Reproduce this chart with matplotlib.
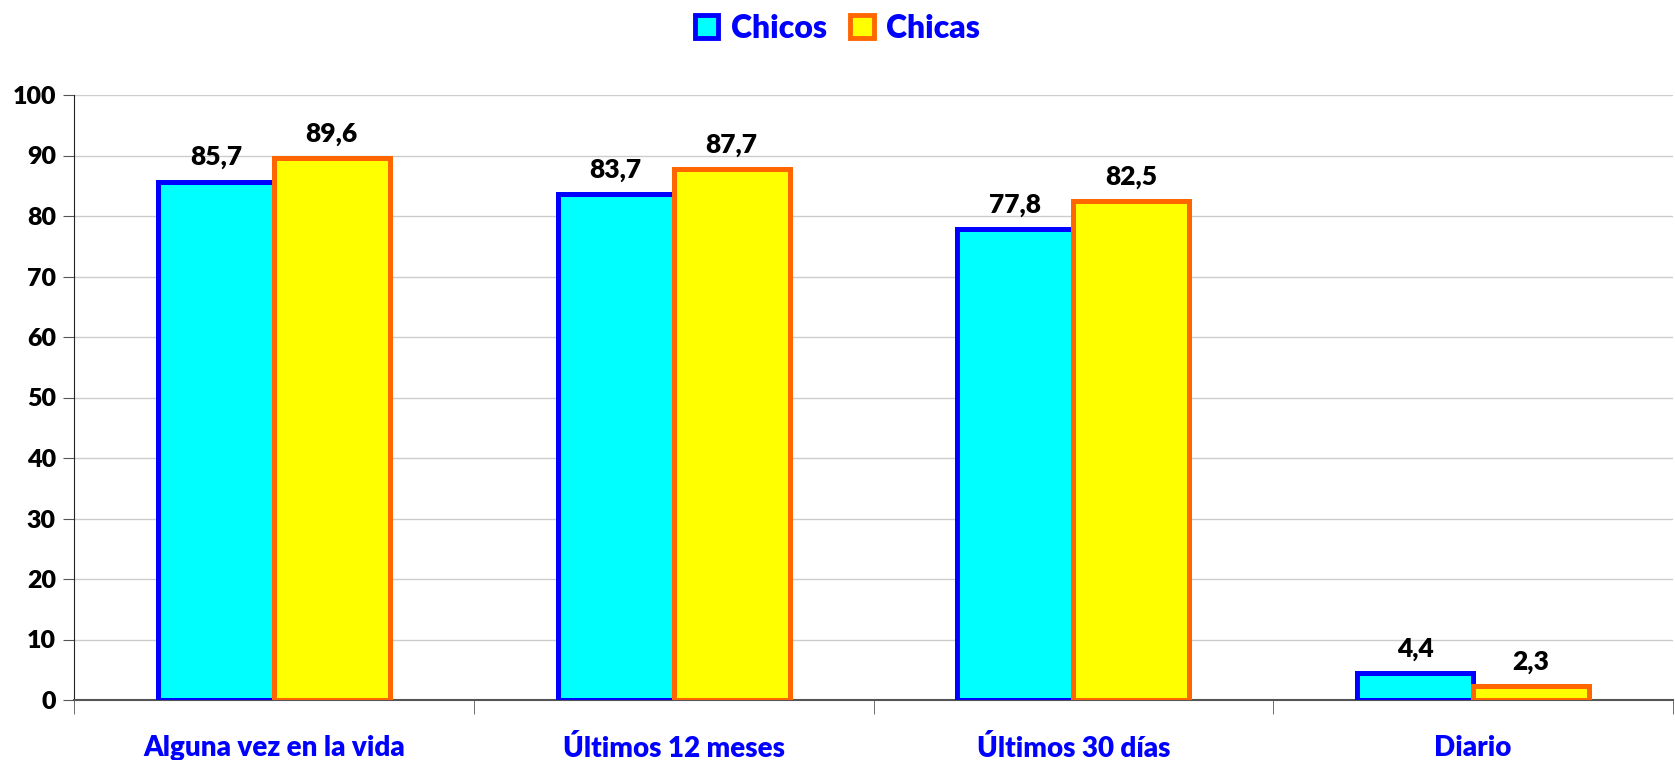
import numpy as np
import matplotlib.pyplot as plt
from matplotlib.patches import Patch

plt.rcParams['font.family'] = ['Lato', 'DejaVu Sans']

# Data
categorias = ["Alguna vez en la vida", "Últimos 12 meses", "Últimos 30 días", "Diario"]
chicos = [85.7, 83.7, 77.8, 4.4]
chicas = [89.6, 87.7, 82.5, 2.3]
yticks = [0, 10, 20, 30, 40, 50, 60, 70, 80, 90, 100]

fig = plt.figure(figsize=(16.75, 7.6), dpi=100)
ax = fig.add_axes([74/1675, 60/760, 1 - 74/1675 - 2/1675, (700-95)/760])

x = np.arange(len(categorias))
w = 0.29
b1 = ax.bar(x - w/2, chicos, w, color="#00FFFF", edgecolor="#0000FF", linewidth=3.6, zorder=3)
b2 = ax.bar(x + w/2, chicas, w, color="#FFFF00", edgecolor="#FF6600", linewidth=3.6, zorder=3)

for bars, vals in ((b1, chicos), (b2, chicas)):
    for r, v in zip(bars, vals):
        ax.text(r.get_x() + r.get_width()/2, v + 2.0, f"{v:.1f}".replace(".", ","),
                ha="center", va="bottom", fontsize=19, fontweight="heavy", color="black")

ax.set_xlim(-0.5, len(categorias) - 0.5)
ax.set_ylim(0, 100)
ax.set_yticks(yticks)
ax.set_yticklabels([str(t) for t in yticks], fontsize=18, fontweight="heavy")
ax.set_xticks(x)
ax.set_xticklabels(categorias, fontsize=20, fontweight="heavy", color="#0000FF")
ax.tick_params(axis="x", length=0, pad=25)
ax.set_xticks(np.arange(-0.5, len(categorias)), minor=True)
ax.tick_params(axis="x", which="minor", length=10, color="#555555", direction="out")
ax.tick_params(axis="y", length=8, color="#555555", pad=5)

ax.yaxis.grid(True, color="#cccccc", linewidth=1, zorder=0)
for s in ("top", "right"):
    ax.spines[s].set_visible(False)
ax.spines["left"].set_color("#222222")
ax.spines["bottom"].set_color("#555555")
ax.spines["bottom"].set_linewidth(1.5)

handles = [Patch(facecolor="#00FFFF", edgecolor="#0000FF", linewidth=3.5),
           Patch(facecolor="#FFFF00", edgecolor="#FF6600", linewidth=3.5)]
leg = fig.legend(handles, ["Chicos", "Chicas"], loc="upper center", bbox_to_anchor=(0.5, 1.02),
                 ncol=2, frameon=False, handlelength=0.75, handleheight=0.75,
                 handletextpad=0.4, columnspacing=0.7,
                 prop={"weight": "heavy", "size": 23})
for t in leg.get_texts():
    t.set_color("#0000FF")

fig.savefig("out.png", dpi=100)
